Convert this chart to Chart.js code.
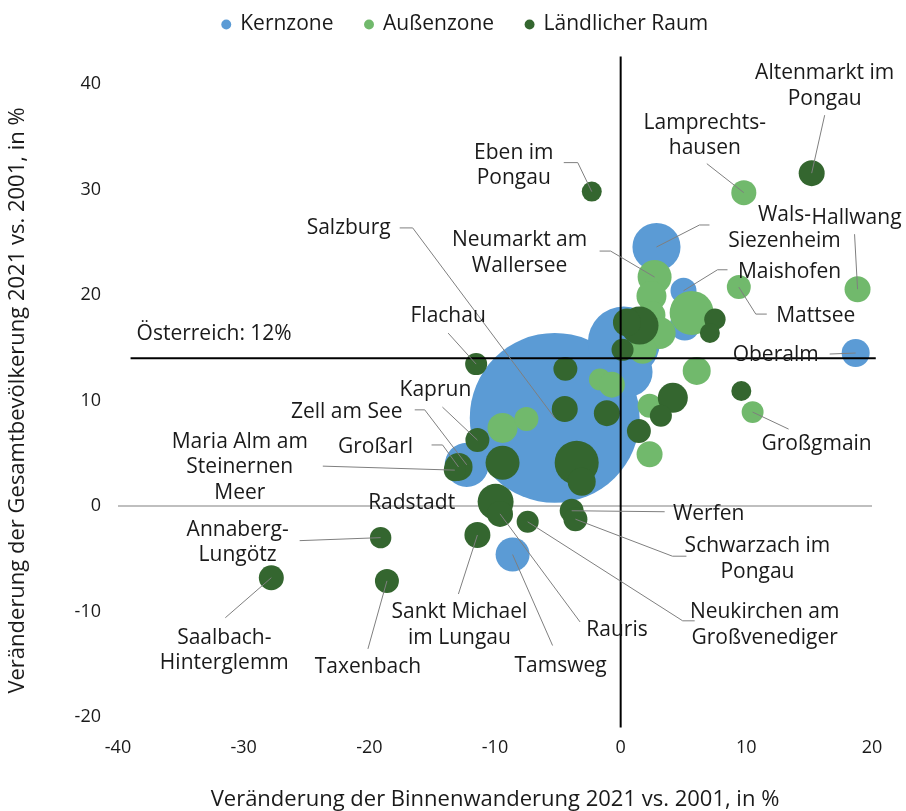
<!DOCTYPE html>
<html><head><meta charset="utf-8">
<script src="https://cdn.jsdelivr.net/npm/chart.js@4.4.0/dist/chart.umd.min.js"></script>
<style>html,body{margin:0;padding:0;background:#fff}#wrap{width:906px;height:811px}</style>
</head><body><div id="wrap"><canvas id="c" width="906" height="811"></canvas></div>
<script>
// ---------- DATA ----------
const seriesLabels = ['Kernzone', 'Außenzone', 'Ländlicher Raum'];

// Kernzone
const kernNames = ['Salzburg', null, null, 'Wals-Siezenheim', 'Maishofen', null, 'Oberalm', 'Zell am See', 'Tamsweg'];
const kernX     = [-5.25, 0.25, 0.55, 2.85, 5.0, 5.1, 18.7, -12.25, -8.6];
const kernY     = [8.35, 15.5, 12.7, 24.55, 20.4, 17.1, 14.5, 3.9, -4.6];
const kernPop   = [156, 28, 13.5, 12.5, 3.65, 4.87, 4.24, 10.5, 6.25]; // Einwohner, Tsd.

// Außenzone
const aussenNames = ['Lamprechtshausen', 'Hallwang', 'Mattsee', 'Großgmain', null, 'Neumarkt am Wallersee',
  null, null, null, null, null, null, null, null, null, null, null];
const aussenX   = [9.8, 18.85, 9.4, 10.5, 5.65, 2.7, 2.45, 2.45, 3.1, 1.75, 6.05, 2.3, 2.3, -9.4, -7.5, -1.65, -0.7];
const aussenY   = [29.7, 20.55, 20.75, 8.9, 18.3, 21.7, 19.9, 18.1, 16.4, 14.8, 12.8, 9.5, 4.9, 7.4, 8.25, 12.0, 11.5];
const aussenPop = [3.4, 3.65, 3.1, 2.6, 10.5, 6.25, 4.87, 4.24, 5.54, 4.24, 4.24, 3.1, 3.65, 4.87, 3.1, 2.6, 3.65];

// Ländlicher Raum
const landNames = ['Altenmarkt im Pongau', 'Eben im Pongau', null, null, null, null, null, null, null, null,
  null, null, null, null, null, null, 'Werfen', 'Schwarzach im Pongau', 'Neukirchen am Großvenediger',
  'Radstadt', 'Rauris', 'Sankt Michael im Lungau', null, 'Kaprun', 'Großarl', 'Flachau',
  'Annaberg-Lungötz', 'Saalbach-Hinterglemm', 'Taxenbach', 'Maria Alm am Steinernen Meer'];
const landX   = [15.2, -2.3, 1.5, 0.5, 0.15, 7.5, 7.1, 9.6, 4.15, 3.2, 1.45, -1.1, -4.45, -4.4, -3.5, -3.1,
  -3.9, -3.6, -7.4, -9.95, -9.6, -11.4, -9.4, -11.4, -12.9, -11.5, -19.1, -27.8, -18.6, -13.2];
const landY   = [31.55, 29.8, 17.1, 17.4, 14.8, 17.7, 16.4, 10.9, 10.25, 8.55, 7.1, 8.8, 9.2, 13.0, 4.1, 2.3,
  -0.45, -1.25, -1.5, 0.4, -0.75, -2.75, 4.1, 6.25, 3.7, 13.45, -3.0, -6.8, -7.1, 3.4];
const landPop = [3.65, 2.16, 7.8, 4.24, 2.62, 2.48, 2.16, 2.16, 4.87, 2.62, 3.1, 3.65, 3.65, 3.1, 10.5, 4.24,
  3.1, 3.1, 2.62, 7.0, 3.65, 3.65, 6.25, 3.1, 4.24, 2.62, 2.48, 3.38, 3.11, 2.62];

const xTickValues = [-40, -30, -20, -10, 0, 10, 20];
const yTickValues = [-20, -10, 0, 10, 20, 30, 40];
const austriaValue = 14;              // horizontal reference line
const austriaLabel = 'Österreich: 12%';
const austriaLineX = [-39, 20.3];
const zeroLineY = [-21, 42.6];
const axisLineX = [-40, 20];
const xTitle = 'Veränderung der Binnenwanderung 2021 vs. 2001, in %';
const yTitle = 'Veränderung der Gesamtbevölkerung 2021 vs. 2001, in %';

// ---------- STYLE / LAYOUT ----------
const FONT = "'Open Sans', sans-serif";
const TXT = '#1a1a1a';
const colors = ['#5B9BD5', '#71B96C', '#34662F'];
const sizeScale = 6.8; // radius px per sqrt(Tsd. Einwohner)
const legendShift = 27;

// label placement: text centre offset and leader path, in px relative to bubble centre
const labelLayout = [
  {name: 'Altenmarkt im Pongau', text: ['Altenmarkt im', 'Pongau'], dx: 13, dy: -87, leader: [[13, -58]]},
  {name: 'Lamprechtshausen', text: ['Lamprechts-', 'hausen'], dx: -39, dy: -57, leader: [[-37, -29]]},
  {name: 'Eben im Pongau', text: ['Eben im', 'Pongau'], dx: -78, dy: -26, leader: [[-28, -29], [-14, -29]]},
  {name: 'Salzburg', text: ['Salzburg'], dx: -206, dy: -190, leader: [[-155, -190], [-142, -190]]},
  {name: 'Neumarkt am Wallersee', text: ['Neumarkt am', 'Wallersee'], dx: -135, dy: -24, leader: [[-55, -26], [-44, -26]]},
  {name: 'Wals-Siezenheim', text: ['Wals-', 'Siezenheim'], dx: 128, dy: -19, leader: [[53, -22], [43, -22]]},
  {name: 'Hallwang', text: ['Hallwang'], dx: -1, dy: -71, leader: [[-3, -55]]},
  {name: 'Maishofen', text: ['Maishofen'], dx: 106, dy: -19, leader: [[44, -21], [34, -21]]},
  {name: 'Mattsee', text: ['Mattsee'], dx: 77, dy: 29, leader: [[28, 27], [17, 27]]},
  {name: 'Oberalm', text: ['Oberalm'], dx: -80, dy: 2, leader: [[-26, 1]]},
  {name: 'Großgmain', text: ['Großgmain'], dx: 64, dy: 32, leader: [[36, 17]]},
  {name: 'Flachau', text: ['Flachau'], dx: -28, dy: -48, leader: [[-28, -31]]},
  {name: 'Kaprun', text: ['Kaprun'], dx: -42, dy: -50, leader: [[-35, -33]]},
  {name: 'Zell am See', text: ['Zell am See'], dx: -120, dy: -53, leader: [[-52, -55], [-42, -55]]},
  {name: 'Großarl', text: ['Großarl'], dx: -83, dy: -20, leader: [[-27, -22], [-16, -22]]},
  {name: 'Maria Alm am Steinernen Meer', text: ['Maria Alm am', 'Steinernen', 'Meer'], dx: -215, dy: -3, leader: [[-132, -4]]},
  {name: 'Radstadt', text: ['Radstadt'], dx: -84, dy: 1, leader: null},
  {name: 'Werfen', text: ['Werfen'], dx: 137, dy: 3, leader: [[93, 1]]},
  {name: 'Schwarzach im Pongau', text: ['Schwarzach im', 'Pongau'], dx: 182, dy: 40, leader: [[111, 37], [97, 37]]},
  {name: 'Annaberg-Lungötz', text: ['Annaberg-', 'Lungötz'], dx: -143, dy: 5, leader: [[-81, 3]]},
  {name: 'Saalbach-Hinterglemm', text: ['Saalbach-', 'Hinterglemm'], dx: -47, dy: 73, leader: [[-46, 40]]},
  {name: 'Taxenbach', text: ['Taxenbach'], dx: -19, dy: 86, leader: [[-19, 68]]},
  {name: 'Sankt Michael im Lungau', text: ['Sankt Michael', 'im Lungau'], dx: -18, dy: 90, leader: [[-19, 59]]},
  {name: 'Tamsweg', text: ['Tamsweg'], dx: 48, dy: 111, leader: [[40, 91]]},
  {name: 'Rauris', text: ['Rauris'], dx: 117, dy: 116, leader: [[80, 108]]},
  {name: 'Neukirchen am Großvenediger', text: ['Neukirchen am', 'Großvenediger'], dx: 237, dy: 103, leader: [[167, 99], [155, 99]]}
];

function toPoints(xs, ys, pops) {
  return xs.map((x, i) => ({x: x, y: ys[i], r: sizeScale * Math.sqrt(pops[i])}));
}
const allNames = [kernNames, aussenNames, landNames];

const labelPlugin = {
  id: 'pointLabels',
  afterLayout(chart) {
    if (chart.legend) { chart.legend.left += legendShift; chart.legend.right += legendShift; }
  },
  afterDatasetsDraw(chart) {
    const ctx = chart.ctx;
    const pos = {};
    [0, 1, 2].forEach(di => {
      chart.getDatasetMeta(di).data.forEach((el, i) => {
        const n = allNames[di][i];
        if (n) pos[n] = {x: el.x, y: el.y};
      });
    });
    ctx.save();
    ctx.strokeStyle = '#7f7f7f';
    ctx.lineWidth = 1;
    labelLayout.forEach(l => {
      const p = pos[l.name];
      if (!p || !l.leader) return;
      ctx.beginPath();
      ctx.moveTo(p.x + l.leader[0][0], p.y + l.leader[0][1]);
      for (let k = 1; k < l.leader.length; k++) ctx.lineTo(p.x + l.leader[k][0], p.y + l.leader[k][1]);
      ctx.lineTo(p.x, p.y);
      ctx.stroke();
    });
    ctx.fillStyle = TXT;
    ctx.font = '21px ' + FONT;
    ctx.textAlign = 'center';
    ctx.textBaseline = 'middle';
    const lh = 25.5;
    labelLayout.forEach(l => {
      const p = pos[l.name];
      if (!p) return;
      const y0 = p.y + l.dy - (l.text.length - 1) * lh / 2;
      l.text.forEach((t, k) => ctx.fillText(t, p.x + l.dx, y0 + k * lh));
    });
    const xs = chart.scales.x, ys = chart.scales.y;
    ctx.textAlign = 'left';
    ctx.fillText(austriaLabel, xs.getPixelForValue(austriaLineX[0]) + 6, ys.getPixelForValue(austriaValue) - 24);
    ctx.restore();
  }
};

const lineDs = (data, color, width, order) => ({
  type: 'line', data: data, borderColor: color, borderWidth: width, pointRadius: 0,
  showLine: true, fill: false, clip: false, order: order
});

new Chart(document.getElementById('c'), {
  type: 'bubble',
  data: {
    datasets: [
      {label: seriesLabels[0], data: toPoints(kernX, kernY, kernPop), backgroundColor: colors[0], borderWidth: 0, order: 5},
      {label: seriesLabels[1], data: toPoints(aussenX, aussenY, aussenPop), backgroundColor: colors[1], borderWidth: 0, order: 4},
      {label: seriesLabels[2], data: toPoints(landX, landY, landPop), backgroundColor: colors[2], borderWidth: 0, order: 3},
      lineDs([{x: axisLineX[0], y: 0}, {x: axisLineX[1], y: 0}], '#bfbfbf', 2, 10),
      lineDs([{x: 0, y: zeroLineY[0]}, {x: 0, y: zeroLineY[1]}], '#000000', 2, 1),
      lineDs([{x: austriaLineX[0], y: austriaValue}, {x: austriaLineX[1], y: austriaValue}], '#000000', 2, 1)
    ]
  },
  options: {
    responsive: false,
    devicePixelRatio: 1,
    animation: false,
    events: [],
    layout: {autoPadding: false, padding: {left: 5, right: 34, top: -18, bottom: 0}},
    plugins: {
      tooltip: {enabled: false},
      legend: {
        position: 'top', weight: 3000,
        labels: {
          usePointStyle: true, pointStyle: 'circle', boxWidth: 7, boxHeight: 7, padding: 32,
          color: TXT, font: {family: FONT, size: 21},
          filter: item => item.datasetIndex < 3,
          sort: (a, b) => a.datasetIndex - b.datasetIndex
        }
      },
      subtitle: {display: true, text: '', font: {size: 10}, padding: {top: 0, bottom: 27}}
    },
    scales: {
      x: {
        type: 'linear', min: xTickValues[0], max: xTickValues[xTickValues.length - 1],
        afterBuildTicks: s => { s.ticks = xTickValues.map(v => ({value: v})); },
        afterFit: s => { s.height = 94; },
        grid: {display: false, drawTicks: false}, border: {display: false},
        ticks: {color: TXT, font: {family: FONT, size: 18}, padding: 20},
        title: {display: true, text: xTitle, color: TXT, font: {family: FONT, size: 22}, padding: {top: 0, bottom: -2}}
      },
      y: {
        type: 'linear', min: yTickValues[0], max: yTickValues[yTickValues.length - 1],
        afterBuildTicks: s => { s.ticks = yTickValues.map(v => ({value: v})); },
        afterFit: s => { s.width = 113; },
        grid: {display: false, drawTicks: false}, border: {display: false},
        ticks: {color: TXT, font: {family: FONT, size: 18}, padding: 17},
        title: {display: true, text: yTitle, color: TXT, font: {family: FONT, size: 22}, padding: 0}
      }
    }
  },
  plugins: [labelPlugin]
});
</script>
</body></html>
